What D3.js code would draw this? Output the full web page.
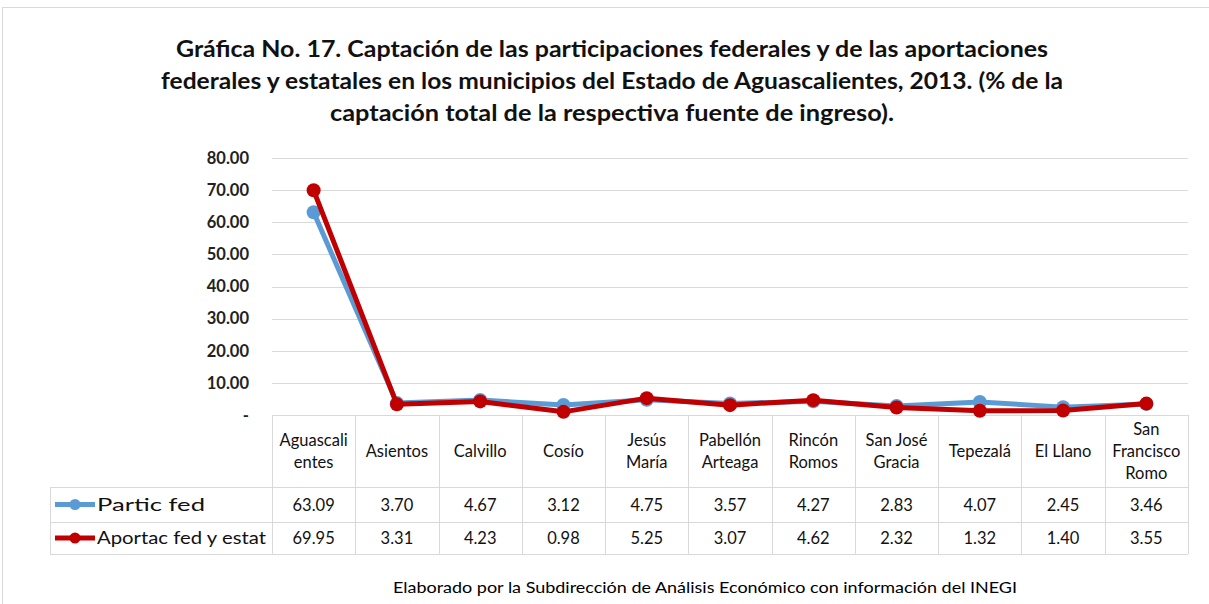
<!DOCTYPE html>
<html>
<head>
<meta charset="utf-8">
<script src="https://cdn.jsdelivr.net/npm/d3@7"></script>
<style>
  body { margin: 0; background: #fff; }
  svg { display: block; font-family: Lato, "Open Sans", sans-serif; }
</style>
</head>
<body>
<svg id="canvas" width="1209" height="604"></svg>
<script>
// data
const municipios = [
  ['Aguascali', 'entes'], ['Asientos'], ['Calvillo'], ['Cosío'], ['Jesús', 'María'],
  ['Pabellón', 'Arteaga'], ['Rincón', 'Romos'], ['San José', 'Gracia'], ['Tepezalá'],
  ['El Llano'], ['San', 'Francisco', 'Romo']
];
const particFed = [63.09, 3.70, 4.67, 3.12, 4.75, 3.57, 4.27, 2.83, 4.07, 2.45, 3.46];
const aportacFedEstat = [69.95, 3.31, 4.23, 0.98, 5.25, 3.07, 4.62, 2.32, 1.32, 1.40, 3.55];
const yTicks = [0, 10, 20, 30, 40, 50, 60, 70, 80];
const titleLines = [
  'Gráfica No. 17. Captación de las participaciones federales y de las aportaciones',
  'federales y estatales en los municipios del Estado de Aguascalientes, 2013. (% de la',
  'captación total de la respectiva fuente de ingreso).'
];
const footer = 'Elaborado por la Subdirección de Análisis Económico con información del INEGI';

const series = [
  { name: 'Partic fed', values: particFed, color: '#5b9bd5' },
  { name: 'Aportac fed y estat', values: aportacFedEstat, color: '#c00000' }
];

const canvas = d3.select('#canvas');
const gridColor = '#d9d9d9';

// outer frame
canvas.append('rect')
  .attr('x', 2.5).attr('y', 7.5)
  .attr('width', 1240).attr('height', 640)
  .attr('fill', 'none').attr('stroke', '#d9d9d9');

// title
const titleWidths = [872, 902, 564];
canvas.selectAll('text.title')
  .data(titleLines)
  .enter()
  .append('text')
  .attr('class', 'title')
  .attr('x', 612)
  .attr('y', (d, i) => 57 + i * 32)
  .attr('text-anchor', 'middle')
  .attr('font-size', 23)
  .attr('font-weight', 'bold')
  .attr('fill', '#111')
  .attr('textLength', (d, i) => titleWidths[i])
  .attr('lengthAdjust', 'spacingAndGlyphs')
  .text((d) => d);

const x = d3.scaleBand()
  .domain(d3.range(municipios.length))
  .range([272, 1188]);

const y = d3.scaleLinear()
  .domain([0, 80])
  .range([415, 158]);

// gridlines
canvas.selectAll('line.grid')
  .data(yTicks.filter((t) => t > 0))
  .enter()
  .append('line')
  .attr('x1', 272).attr('x2', 1188)
  .attr('y1', (d) => Math.round(y(d)) + 0.5)
  .attr('y2', (d) => Math.round(y(d)) + 0.5)
  .attr('stroke', gridColor);

// y axis labels
const yAxis = d3.axisLeft(y)
  .tickValues(yTicks)
  .tickSize(0)
  .tickPadding(0)
  .tickFormat((d) => (d === 0 ? '-' : d.toFixed(2)));

const yAxisG = canvas.append('g')
  .attr('transform', 'translate(249,0)')
  .call(yAxis);
yAxisG.select('.domain').remove();
yAxisG.selectAll('text')
  .attr('font-family', 'Lato, "Open Sans", sans-serif')
  .attr('font-size', 16.5)
  .attr('font-weight', 'bold')
  .attr('fill', '#222');

// table
const rowTop = 415, headerBottom = 487, row1Bottom = 522, row2Bottom = 554;
const tableLeft = 50;

// horizontal table lines
[[272, rowTop], [tableLeft, headerBottom], [tableLeft, row1Bottom], [tableLeft, row2Bottom]]
  .forEach(([x0, yy]) => {
    canvas.append('line')
      .attr('x1', x0).attr('x2', 1188)
      .attr('y1', yy + 0.5).attr('y2', yy + 0.5)
      .attr('stroke', gridColor);
  });

// vertical table lines
const colEdges = municipios.map((m, i) => x(i)).concat([1188]);
canvas.selectAll('line.col')
  .data(colEdges)
  .enter()
  .append('line')
  .attr('x1', (d) => Math.round(d) + 0.5)
  .attr('x2', (d) => Math.round(d) + 0.5)
  .attr('y1', rowTop).attr('y2', row2Bottom)
  .attr('stroke', gridColor);
canvas.append('line')
  .attr('x1', tableLeft + 0.5).attr('x2', tableLeft + 0.5)
  .attr('y1', headerBottom).attr('y2', row2Bottom)
  .attr('stroke', gridColor);

// header labels
const headerMid = (rowTop + headerBottom) / 2;
municipios.forEach((lines, i) => {
  const t = canvas.append('text')
    .attr('text-anchor', 'middle')
    .attr('font-size', 16.5)
    .attr('fill', '#111');
  lines.forEach((line, j) => {
    t.append('tspan')
      .attr('x', x(i) + x.bandwidth() / 2)
      .attr('y', headerMid + 6 + (j - (lines.length - 1) / 2) * 22)
      .text(line);
  });
});

// data rows
const rowMids = [(headerBottom + row1Bottom) / 2, (row1Bottom + row2Bottom) / 2];
const legendWidths = [108, 169];
series.forEach((s, k) => {
  const cy = rowMids[k];
  canvas.append('line')
    .attr('x1', 55).attr('x2', 95)
    .attr('y1', cy).attr('y2', cy)
    .attr('stroke', s.color).attr('stroke-width', 5);
  canvas.append('circle')
    .attr('cx', 75).attr('cy', cy).attr('r', 5.5)
    .attr('fill', s.color);
  canvas.append('text')
    .attr('x', 97).attr('y', cy + 6)
    .attr('font-size', 17.5)
    .attr('fill', '#111')
    .attr('textLength', legendWidths[k])
    .attr('lengthAdjust', 'spacingAndGlyphs')
    .text(s.name);
  canvas.selectAll(null)
    .data(s.values)
    .enter()
    .append('text')
    .attr('x', (d, i) => x(i) + x.bandwidth() / 2)
    .attr('y', cy + 6)
    .attr('text-anchor', 'middle')
    .attr('font-size', 16.5)
    .attr('fill', '#111')
    .text((d) => d.toFixed(2));
});

// lines and markers
const line = d3.line()
  .x((d, i) => x(i) + x.bandwidth() / 2)
  .y((d) => y(d));

series.forEach((s) => {
  canvas.append('path')
    .datum(s.values)
    .attr('d', line)
    .attr('fill', 'none')
    .attr('stroke', s.color)
    .attr('stroke-width', 5)
    .attr('stroke-linejoin', 'round');
  canvas.selectAll(null)
    .data(s.values)
    .enter()
    .append('circle')
    .attr('cx', (d, i) => x(i) + x.bandwidth() / 2)
    .attr('cy', (d) => y(d))
    .attr('r', 7)
    .attr('fill', s.color);
});

// footer
canvas.append('text')
  .attr('x', 705)
  .attr('y', 593)
  .attr('text-anchor', 'middle')
  .attr('font-size', 15)
  .attr('fill', '#000')
  .attr('textLength', 624)
  .attr('lengthAdjust', 'spacingAndGlyphs')
  .text(footer);
</script>
</body>
</html>
